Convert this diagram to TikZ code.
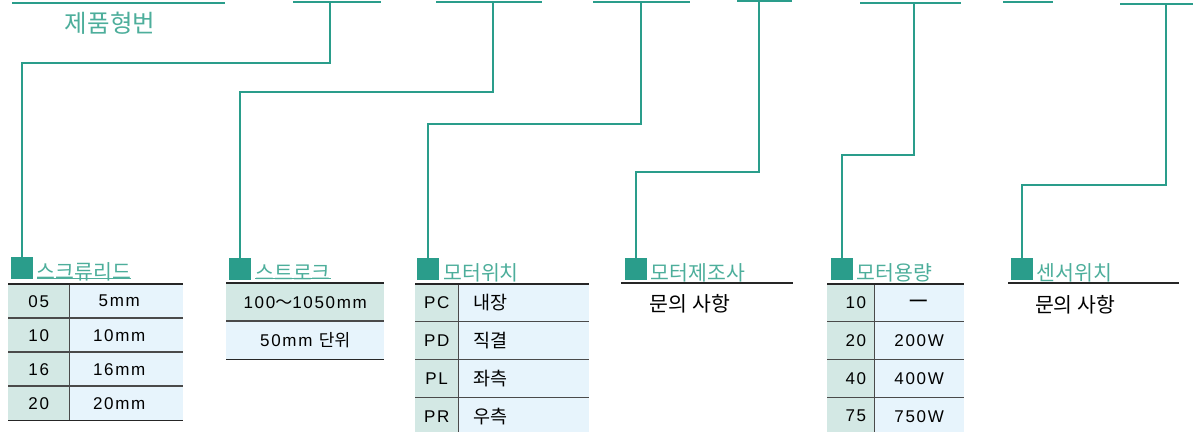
\documentclass[tikz,border=0pt]{standalone}
\usepackage{fontspec}
\setmainfont{Liberation Sans}[LetterSpace=10]
\newfontfamily\kr{Noto Sans CJK KR}
\definecolor{teal1}{HTML}{2A9D8B}
\definecolor{tealtxt}{HTML}{4DAE9B}
\definecolor{cellA}{HTML}{D3E8E4}
\definecolor{cellB}{HTML}{E7F4FC}
\definecolor{rulegray}{HTML}{4A4A4A}

\begin{document}
\begin{tikzpicture}
  [x=1pt,y=-1pt,
   link/.style={draw=teal1,line width=2pt},
   sqbox/.style={fill=teal1,minimum width=22pt,minimum height=22pt,inner sep=0pt},
   head/.style={text=tealtxt,font=\kr\fontsize{20.5}{20.5}\selectfont,anchor=west,inner sep=0pt},
   cell/.style={anchor=north west,inner sep=0pt,font=\fontsize{17}{17}\selectfont},
   topline/.style={draw=black!85,line width=1.8pt},
   rowline/.style={draw=rulegray,line width=1.2pt},
   colline/.style={draw=rulegray,line width=1.5pt},
   ask/.style={font=\kr\fontsize{20.5}{20.5}\selectfont,inner sep=0pt}]
  \clip (0,0) rectangle (1193,431);

  % top bars
  \foreach \xa/\xb/\yy in {12/225/3, 293/381/2, 436/542/2, 593/690/2, 737/792/1, 860/961/3, 1003/1053/2, 1120/1193/4}
    \draw[link] (\xa,\yy) -- (\xb,\yy);
  \node[text=tealtxt,font=\kr\fontsize{24.5}{24.5}\selectfont,inner sep=0pt] (title) at (110,23) {제품형번};

  \coordinate (t1) at (330,2);
  \coordinate (t2) at (493,2);
  \coordinate (t3) at (641,2);
  \coordinate (t4) at (759,1);
  \coordinate (t5) at (914,3);
  \coordinate (t6) at (1166,4);

  % squares and headings
  \node[sqbox] (sq1) at (21.5,268) {};
  \node[sqbox] (sq2) at (240,269) {};
  \node[sqbox] (sq3) at (428,269) {};
  \node[sqbox] (sq4) at (635.5,269) {};
  \node[sqbox] (sq5) at (841.5,269) {};
  \node[sqbox] (sq6) at (1021.5,269) {};

  \node[head] (h1) at ([xshift=4pt,yshift=-3.5pt]sq1.east) {스크류리드};
  \node[head] (h2) at ([xshift=4pt,yshift=-3.5pt]sq2.east) {스트로크};
  \node[head] (h3) at ([xshift=4pt,yshift=-3.5pt]sq3.east) {모터위치};
  \node[head] (h4) at ([xshift=4pt,yshift=-3.5pt]sq4.east) {모터제조사};
  \node[head] (h5) at ([xshift=4pt,yshift=-3.5pt]sq5.east) {모터용량};
  \node[head] (h6) at ([xshift=4pt,yshift=-3.5pt]sq6.east) {센서위치};
  \draw[tealtxt,line width=1pt] ([yshift=2pt]h1.south west) -- ([yshift=2pt]h1.south east);
  \draw[tealtxt,line width=1pt] ([yshift=2pt]h2.south west) -- ([yshift=2pt]h2.south east);

  % connectors
  \draw[link] (t1) -- ++(0,61) -| (sq1.north);
  \draw[link] (t2) -- ++(0,90) -| (sq2.north);
  \draw[link] (t3) -- ++(0,122) -| (sq3.north);
  \draw[link] (t4) -- ++(0,171) -| (sq4.north);
  \draw[link] (t5) -- ++(0,152) -| (sq5.north);
  \draw[link] (t6) -- ++(0,181) -| (sq6.north);

  % screw lead
  \foreach \i/\code/\lead in {1/05/5mm, 2/10/10mm, 3/16/16mm, 4/20/20mm} {
    \node[cell,fill=cellA,minimum width=61pt,minimum height=34pt] (lc\i) at (8,250+34*\i) {\code};
    \node[cell,fill=cellB,minimum width=114pt,minimum height=34pt,execute at begin node=\kern-14pt] (lv\i) at (69,250+34*\i) {\lead};
  }
  \foreach \i in {2,3,4}
    \draw[rowline] (lc\i.north west) -- (lv\i.north east);
  \draw[colline] (lc1.north east) -- (lc4.south east);
  \draw[topline] (lc1.north west) -- (lv1.north east);
  \draw[topline] (lc4.south west) -- (lv4.south east);

  % stroke
  \node[cell,fill=cellA,minimum width=158pt,minimum height=38pt] (st1) at (226,283) {100{\kr ～}1050mm};
  \node[cell,fill=cellB,minimum width=158pt,minimum height=38pt] (st2) at (226,321) {50mm {\kr 단위}};
  \draw[rowline] (st2.north west) -- (st2.north east);
  \draw[topline] (st1.north west) -- (st1.north east);
  \draw[topline] (st2.south west) -- (st2.south east);

  % motor position
  \foreach \i/\code/\pos in {1/PC/내장, 2/PD/직결, 3/PL/좌측, 4/PR/우측} {
    \node[cell,fill=cellA,minimum width=43pt,minimum height=37.7pt] (pc\i) at (415,246.3+37.7*\i) {\code};
    \node[cell,fill=cellB,minimum width=131pt,minimum height=37.7pt,text width=101pt,align=left,inner xsep=15pt,font=\kr\fontsize{18.5}{18.5}\selectfont] (pv\i) at (458,246.3+37.7*\i) {\pos};
  }
  \foreach \i in {2,3,4}
    \draw[rowline] (pc\i.north west) -- (pv\i.north east);
  \draw[colline] (pc1.north east) -- (pc4.south east);
  \draw[topline] (pc1.north west) -- (pv1.north east);

  % motor maker
  \draw[topline] (621,283) -- (793,283);
  \node[ask] (q4) at (690,304) {문의 사항};

  % motor power
  \foreach \i/\code/\watt in {1/10/\textbf{—}, 2/20/200W, 3/40/400W, 4/75/750W} {
    \node[cell,fill=cellA,minimum width=47pt,minimum height=37.7pt,text width=31pt,align=right] (mc\i) at (827,246.3+37.7*\i) {\code};
    \node[cell,fill=cellB,minimum width=90pt,minimum height=37.7pt] (mv\i) at (874,246.3+37.7*\i) {\watt};
  }
  \foreach \i in {2,3,4}
    \draw[rowline] (mc\i.north west) -- (mv\i.north east);
  \draw[colline] (mc1.north east) -- (mc4.south east);
  \draw[topline] (mc1.north west) -- (mv1.north east);

  % sensor position
  \draw[topline] (1008,283) -- (1179,283);
  \node[ask] (q6) at (1075,305) {문의 사항};
\end{tikzpicture}
\end{document}
